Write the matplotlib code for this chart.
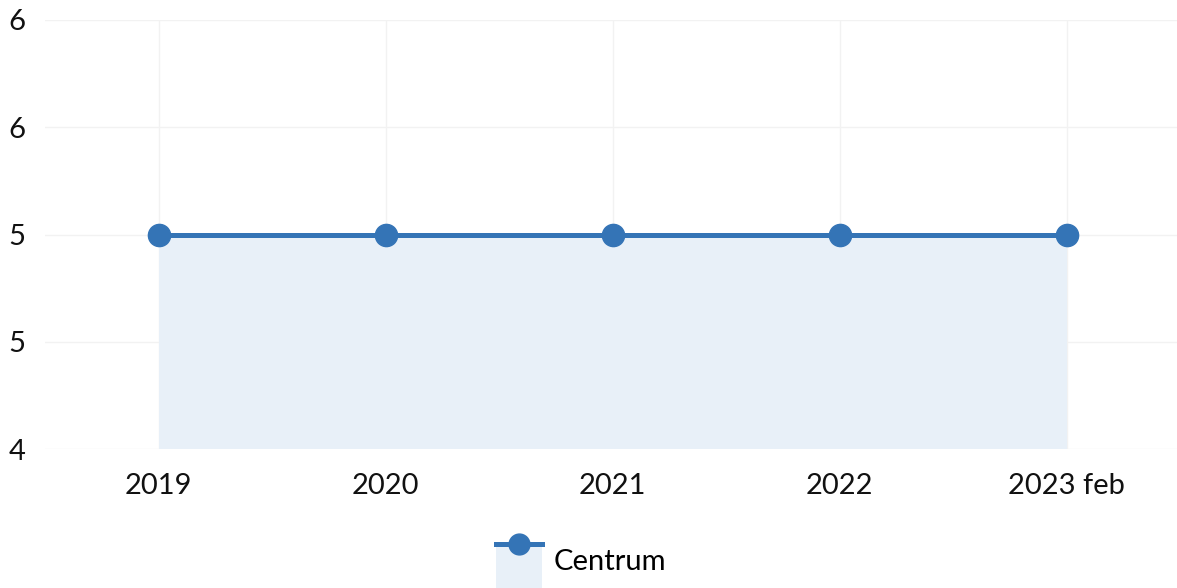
import matplotlib.pyplot as plt
from matplotlib.legend_handler import HandlerBase
from matplotlib.patches import Rectangle
from matplotlib.lines import Line2D

plt.rcParams['font.family'] = ['Lato', 'DejaVu Sans']

# Data
categories = ['2019', '2020', '2021', '2022', '2023 feb']
values = [5, 5, 5, 5, 5]
y_ticks = [4, 4.5, 5, 5.5, 6]
y_labels = ['4', '5', '5', '6', '6']

line_color = '#3474b6'
fill_color = '#e8f0f8'


class AreaLineHandler(HandlerBase):
    # legend swatch: filled box with the line + marker along its top edge
    def create_artists(self, legend, orig_handle, xdescent, ydescent,
                       width, height, fontsize, trans):
        rect = Rectangle((-xdescent, -ydescent - height * 0.75), width, height * 1.75,
                         facecolor=fill_color, edgecolor='none', transform=trans)
        ytop = -ydescent + height * 1.0
        ln = Line2D([-xdescent, -xdescent + width], [ytop, ytop],
                    color=line_color, lw=3.6, transform=trans)
        mk = Line2D([-xdescent + width / 2], [ytop], marker='o', markersize=15,
                    color=line_color, transform=trans)
        return [rect, ln, mk]


fig = plt.figure(figsize=(11.77, 5.88), dpi=100)
ax = fig.add_axes([45 / 1177, 139 / 588, 1 - 45 / 1177, 429 / 588])

x = list(range(len(categories)))
ax.fill_between(x, 4, values, color=fill_color, linewidth=0)
ax.plot(x, values, color=line_color, lw=3.6, marker='o', markersize=16,
        solid_capstyle='butt', zorder=3, clip_on=False)

ax.set_xlim(-0.5, 4.485)
ax.set_ylim(4, 6)
ax.set_yticks(y_ticks)
ax.set_yticklabels(y_labels)
ax.set_xticks(x)
ax.set_xticklabels(categories)

# vertical grid lines at category positions, horizontal at y ticks
ax.grid(True, color='#f2f2f2', lw=1)
ax.set_axisbelow(True)
for s in ax.spines.values():
    s.set_visible(False)
ax.tick_params(axis='both', length=0, labelsize=21, colors='#111111')
ax.tick_params(axis='x', pad=17)
ax.tick_params(axis='y', pad=14)

handle = Line2D([], [], color=line_color)
fig.legend([handle], ['Centrum'], handler_map={Line2D: AreaLineHandler()},
           loc='center', bbox_to_anchor=(581 / 1177, 1 - 560 / 588),
           frameon=False, fontsize=21, handlelength=1.6, handleheight=1.3,
           handletextpad=0.4)

fig.savefig('out.png', dpi=100)
